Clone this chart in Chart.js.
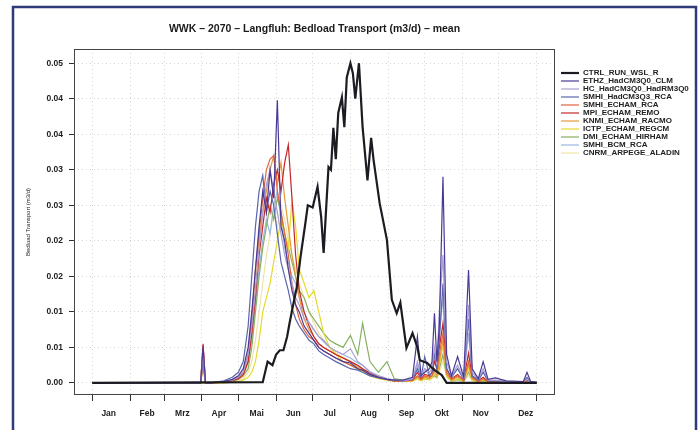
<!DOCTYPE html>
<html><head><meta charset="utf-8">
<script src="https://cdn.jsdelivr.net/npm/chart.js@4.4.1/dist/chart.umd.min.js"></script>
<style>html,body{margin:0;padding:0;background:#fff}canvas{display:block}</style>
</head><body>
<canvas id="c" width="698" height="430"></canvas>
<script>
const titleText = 'WWK – 2070 – Langfluh: Bedload Transport (m3/d) – mean';
const yAxisTitle = 'Bedload Transport (m3/d)';
const monthLabels = ['Jan','Feb','Mrz','Apr','Mai','Jun','Jul','Aug','Sep','Okt','Nov','Dez'];
const monthStarts = [0,31,59,90,120,151,181,212,243,273,304,334,365];
const monthLabelDays = [13.5,45,74,104,135,165,195,227,258,287,319,356];
const yTickValues = [0,0.005,0.01,0.015,0.02,0.025,0.03,0.035,0.04,0.045];
const yTickLabels = ['0.00','0.01','0.01','0.02','0.02','0.03','0.03','0.04','0.04','0.05'];
const seriesNames = ['CTRL_RUN_WSL_R','ETHZ_HadCM3Q0_CLM','HC_HadCM3Q0_HadRM3Q0','SMHI_HadCM3Q3_RCA','SMHI_ECHAM_RCA','MPI_ECHAM_REMO','KNMI_ECHAM_RACMO','ICTP_ECHAM_REGCM','DMI_ECHAM_HIRHAM','SMHI_BCM_RCA','CNRM_ARPEGE_ALADIN'];
const seriesColors = ['#1b1b22','#4a3894','#a99fd0','#5a66ac','#e0643a','#c4262b','#e69a3c','#e6da2e','#86b062','#9ab8e0','#eee4a8'];

// day of year for the scenario series
const days = [0,85,89,91,93,97,108,115,120,124,
  128,131,134,137,140,143,146,149,152,155,
  158,161,164,167,170,174,178,182,186,190,
  195,200,206,212,218,222,228,235,242,248,
  255,263,267,270,273,277,279,281,283,285,
  288,291,295,300,305,309,312,317,321,325,
  331,340,354,357,360,365];

const ctrlDays = [0,140,144,148,151,154,157,160,162,165,
  168,171,175,177,181,185,188,190,194,196,
  198,200,202,205,207,209,212,214,216,219,
  222,226,229,231,236,242,246,250,253,258,
  263,267,269,275,281,287,291,365];
const ctrlValues = [0,0.0001,0.003,0.0025,0.004,0.0046,0.0046,0.0065,0.0084,0.011,
  0.0135,0.0177,0.0225,0.025,0.0247,0.0276,0.0233,0.0183,0.0304,0.030,
  0.0359,0.0315,0.038,0.0402,0.036,0.043,0.045,0.0436,0.040,0.045,
  0.036,0.0285,0.0345,0.0314,0.0253,0.0201,0.0117,0.0098,0.0113,0.0049,
  0.007,0.005,0.0032,0.0028,0.0018,0.0011,0,0];

const ethzValues = [0,0,0,0.0052,0,0,0.0002,0.0005,0.001,0.002,
  0.005,0.010,0.016,0.022,0.027,0.024,0.030,0.026,0.0398,0.022,
  0.020,0.016,0.013,0.011,0.010,0.008,0.007,0.006,0.005,0.0045,
  0.004,0.0035,0.003,0.0028,0.002,0.0018,0.0012,0.0008,0.0005,0.0004,
  0.0004,0.0008,0.0065,0.001,0.0015,0.002,0.003,0.0098,0.003,0.008,
  0.029,0.004,0.001,0.0037,0.0008,0.0159,0.002,0.0006,0.003,0.0005,
  0.0007,0.0003,0.0002,0.0015,0.0002,0.0001];
const hcValues = [0,0,0,0.004,0,0,0.0002,0.0004,0.0008,0.0015,
  0.004,0.008,0.013,0.019,0.024,0.028,0.030,0.027,0.024,0.021,
  0.018,0.016,0.014,0.012,0.011,0.009,0.0085,0.0075,0.0065,0.006,
  0.005,0.0045,0.004,0.0048,0.003,0.0025,0.0015,0.001,0.0006,0.0004,
  0.0003,0.0006,0.003,0.001,0.002,0.0015,0.002,0.005,0.0025,0.010,
  0.018,0.003,0.001,0.0025,0.0006,0.011,0.0015,0.0005,0.002,0.0004,
  0.0004,0.0002,0.0001,0.0005,0.0001,0];
const smhiQ3Values = [0,0,0,0.003,0,0,0.0003,0.0008,0.0015,0.003,
  0.008,0.015,0.022,0.027,0.0292,0.024,0.027,0.025,0.021,0.017,
  0.015,0.013,0.0105,0.009,0.008,0.007,0.006,0.0055,0.0045,0.004,
  0.0035,0.003,0.0025,0.002,0.0018,0.0015,0.001,0.0007,0.0005,0.0004,
  0.0003,0.0005,0.002,0.0008,0.0037,0.001,0.0015,0.004,0.002,0.006,
  0.014,0.002,0.0008,0.002,0.0005,0.009,0.001,0.0004,0.0015,0.0003,
  0.0003,0.0002,0.0001,0.0008,0.0001,0];
const smhiEchamValues = [0,0,0,0.005,0,0,0.0002,0.0004,0.0008,0.0015,
  0.004,0.009,0.016,0.021,0.026,0.030,0.0315,0.032,0.027,0.024,
  0.021,0.018,0.014,0.011,0.009,0.0075,0.0065,0.006,0.005,0.0045,
  0.004,0.0035,0.003,0.0025,0.002,0.0018,0.0012,0.0008,0.0005,0.0003,
  0.0003,0.0004,0.001,0.0005,0.001,0.0008,0.001,0.002,0.0015,0.004,
  0.007,0.0015,0.0005,0.001,0.0004,0.003,0.0008,0.0003,0.0006,0.0002,
  0.0002,0.0001,0.0001,0.0003,0.0001,0];
const mpiValues = [0,0,0,0.0055,0,0,0.0001,0.0003,0.0006,0.0012,
  0.003,0.007,0.012,0.018,0.022,0.026,0.024,0.028,0.030,0.027,
  0.031,0.0335,0.026,0.018,0.013,0.010,0.008,0.0065,0.0055,0.005,
  0.0045,0.004,0.0035,0.003,0.0025,0.002,0.0014,0.0009,0.0005,0.0003,
  0.0003,0.0004,0.0015,0.0006,0.0012,0.001,0.0015,0.003,0.002,0.005,
  0.0084,0.002,0.0006,0.0012,0.0004,0.0042,0.0008,0.0003,0.0008,0.0002,
  0.0002,0.0001,0.0001,0.0004,0.0001,0];
const knmiValues = [0,0,0,0.002,0,0,0.0001,0.0003,0.0006,0.001,
  0.003,0.007,0.013,0.020,0.024,0.027,0.030,0.032,0.028,0.031,
  0.026,0.022,0.018,0.015,0.012,0.009,0.0075,0.0065,0.0055,0.005,
  0.0045,0.004,0.0035,0.003,0.0022,0.002,0.0013,0.0009,0.0005,0.0003,
  0.0003,0.0003,0.0008,0.0004,0.0008,0.0006,0.001,0.0015,0.001,0.003,
  0.006,0.0012,0.0004,0.0008,0.0003,0.0025,0.0006,0.0002,0.0005,0.0002,
  0.0001,0.0001,0,0.0002,0,0];
const ictpValues = [0,0,0,0,0,0,0,0.0001,0.0002,0.0004,
  0.0008,0.0015,0.003,0.006,0.010,0.012,0.014,0.017,0.020,0.023,
  0.021,0.019,0.0257,0.022,0.016,0.014,0.012,0.013,0.010,0.007,
  0.005,0.004,0.003,0.0025,0.002,0.0015,0.001,0.0006,0.0004,0.0002,
  0.0002,0.0003,0.0006,0.0003,0.0006,0.0005,0.0008,0.0012,0.001,0.0025,
  0.0053,0.001,0.0003,0.0006,0.0002,0.002,0.0004,0.0002,0.0004,0.0001,
  0.0001,0,0,0.0001,0,0];
const dmiValues = [0,0,0,0,0,0,0.0001,0.0002,0.0005,0.001,
  0.002,0.005,0.010,0.015,0.019,0.022,0.025,0.023,0.026,0.024,
  0.021,0.019,0.017,0.015,0.013,0.012,0.010,0.009,0.008,0.007,
  0.006,0.0055,0.005,0.0067,0.004,0.0084,0.003,0.0015,0.003,0.0006,
  0.0004,0.0004,0.0008,0.0004,0.0006,0.0005,0.0008,0.001,0.0008,0.002,
  0.004,0.001,0.0003,0.0005,0.0002,0.0015,0.0004,0.0002,0.0003,0.0001,
  0.0001,0,0,0.0001,0,0];
const smhiBcmValues = [0,0,0,0.003,0,0,0.0002,0.0004,0.0008,0.0014,
  0.003,0.006,0.011,0.016,0.020,0.023,0.021,0.025,0.027,0.023,
  0.019,0.017,0.015,0.014,0.012,0.010,0.0085,0.0075,0.0065,0.0058,
  0.005,0.0045,0.004,0.0035,0.0028,0.0025,0.0016,0.001,0.0006,0.0004,
  0.0003,0.0005,0.0025,0.0008,0.002,0.001,0.0015,0.004,0.002,0.007,
  0.012,0.002,0.0008,0.002,0.0005,0.007,0.001,0.0004,0.0015,0.0003,
  0.0003,0.0002,0.0001,0.0006,0.0001,0];
const cnrmValues = [0,0,0,0,0,0,0,0.0001,0.0003,0.0006,
  0.0015,0.003,0.006,0.010,0.014,0.018,0.021,0.024,0.022,0.025,
  0.023,0.020,0.018,0.016,0.014,0.012,0.010,0.0085,0.007,0.006,
  0.005,0.0042,0.0036,0.003,0.0024,0.002,0.0013,0.0008,0.0005,0.0003,
  0.0002,0.0003,0.0005,0.0003,0.0005,0.0004,0.0006,0.0008,0.0006,0.0015,
  0.003,0.0008,0.0002,0.0004,0.0002,0.001,0.0003,0.0001,0.0002,0.0001,
  0,0,0,0.0001,0,0];

const scenarioValues = [ethzValues,hcValues,smhiQ3Values,smhiEchamValues,mpiValues,knmiValues,ictpValues,dmiValues,smhiBcmValues,cnrmValues];

const FONT = 'Liberation Sans, Arial, Helvetica, sans-serif';
Chart.defaults.font.family = FONT;
Chart.defaults.color = '#222';

const datasets = [{
  label: seriesNames[0],
  data: ctrlDays.map((d, i) => ({x: d, y: ctrlValues[i]})),
  borderColor: seriesColors[0], backgroundColor: seriesColors[0], borderWidth: 2.2
}].concat(scenarioValues.map((vals, k) => ({
  label: seriesNames[k + 1],
  data: days.map((d, i) => ({x: d, y: vals[i]})),
  borderColor: seriesColors[k + 1], backgroundColor: seriesColors[k + 1], borderWidth: 1.2
}))).map(ds => Object.assign({pointRadius: 0, tension: 0, fill: false}, ds));

const framePlugin = {
  id: 'frame',
  beforeLayout(chart) {
    const lg = chart.legend;
    if (lg && !lg._fixedFit) {
      const fit = lg.fit;
      lg.fit = function () { fit.call(this); this.width = 143; };
      lg._fixedFit = true;
    }
  },
  afterLayout(chart) {
    const ca = chart.chartArea;
    const t = chart.titleBlock;
    if (t) { t.left = ca.left; t.right = ca.right; t.width = ca.right - ca.left; }
    const lg = chart.legend;
    if (lg) {
      const dx = ca.right + 6 - lg.left, dy = ca.top + 20 - lg.top;
      lg.left += dx; lg.right += dx; lg.top += dy; lg.bottom += dy;
    }
  },
  beforeDraw(chart) {
    const ctx = chart.ctx;
    ctx.save();
    ctx.fillStyle = '#fff';
    ctx.fillRect(0, 0, chart.width, chart.height);
    ctx.strokeStyle = '#2f3a78';
    ctx.lineWidth = 2.5;
    ctx.strokeRect(13, 7, 683, 440);
    ctx.restore();
  },
  beforeDatasetsDraw(chart) {
    const ca = chart.chartArea, ctx = chart.ctx;
    ctx.save();
    ctx.strokeStyle = '#444';
    ctx.lineWidth = 1;
    ctx.strokeRect(Math.round(ca.left) + 0.5, Math.round(ca.top) + 0.5, Math.round(ca.right - ca.left) - 1, Math.round(ca.bottom - ca.top) - 1);
    ctx.restore();
  }
};

new Chart(document.getElementById('c'), {
  type: 'line',
  data: {datasets},
  plugins: [framePlugin],
  options: {
    responsive: false,
    devicePixelRatio: 1,
    animation: false,
    events: [],
    layout: {padding: {left: 14, right: 0, top: 10, bottom: 7}},
    plugins: {
      tooltip: {enabled: false},
      title: {
        display: true, text: titleText, color: '#1a1a1a',
        font: {size: 10.5, weight: 'bold', family: FONT},
        padding: {top: 12.5, bottom: 13.9}
      },
      legend: {
        display: true, position: 'right', align: 'start', fullSize: false,
        labels: {
          usePointStyle: true, pointStyle: 'line', pointStyleWidth: 18,
          padding: 0, color: '#222',
          font: {size: 8, weight: 'bold', family: FONT}
        }
      }
    },
    scales: {
      x: {
        type: 'linear', position: 'bottom', min: -15, max: 380, weight: 0,
        afterBuildTicks: s => { s.ticks = monthStarts.map(v => ({value: v})); },
        afterFit: s => { s.height = 6; },
        ticks: {display: false},
        grid: {color: '#d6d6d6', lineWidth: 1, drawTicks: true, tickLength: 6, tickColor: '#333', tickWidth: 1},
        border: {display: false, dash: [1, 3]}
      },
      x2: {
        type: 'linear', position: 'bottom', min: -15, max: 380, weight: 1,
        afterBuildTicks: s => { s.ticks = monthLabelDays.map(v => ({value: v})); },
        afterFit: s => { s.height = 22; },
        ticks: {
          autoSkip: false, maxRotation: 0, minRotation: 0, padding: 7.5, color: '#222',
          font: {size: 8.5, weight: 'bold', family: FONT},
          callback: (v, i) => monthLabels[i]
        },
        grid: {display: false, drawTicks: false},
        border: {display: false}
      },
      y: {
        type: 'linear', position: 'left', min: -0.0017, max: 0.047,
        afterBuildTicks: s => { s.ticks = yTickValues.map(v => ({value: v})); },
        afterFit: s => { s.width = 60; },
        ticks: {
          padding: 6, color: '#222',
          font: {size: 8.5, weight: 'bold', family: FONT},
          callback: (v, i) => yTickLabels[i]
        },
        grid: {color: '#d6d6d6', lineWidth: 1, drawTicks: true, tickLength: 5, tickColor: '#333', tickWidth: 1},
        border: {display: false, dash: [1, 3]},
        title: {
          display: true, text: yAxisTitle, color: '#222',
          font: {size: 6, family: FONT},
          padding: {top: 11, bottom: 0}
        }
      }
    }
  }
});
</script>
</body></html>
